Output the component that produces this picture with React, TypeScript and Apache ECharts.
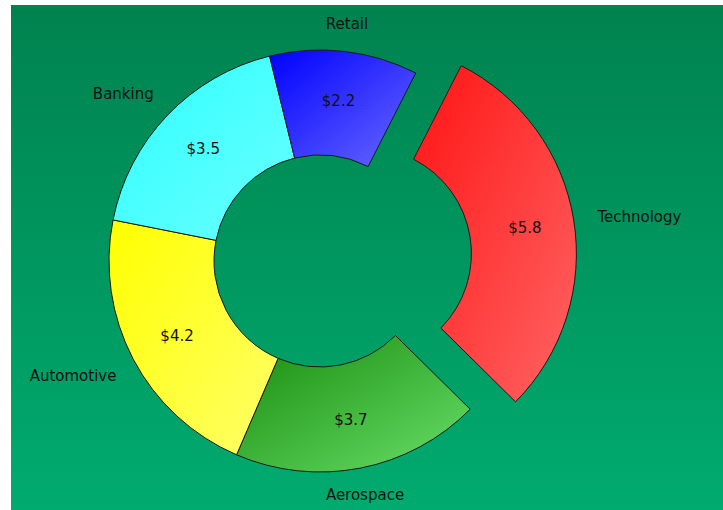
import React, { useEffect, useRef } from "react";
import * as echarts from "echarts";

const categories = ["Technology", "Aerospace", "Automotive", "Banking", "Retail"];
const values = [5.8, 3.7, 4.2, 3.5, 2.2];
const explodedIndex = 0;

const gradStart = ["#ff1414", "#178a0c", "#ffff00", "#2effff", "#0000ff"];
const gradEnd = ["#ff6464", "#6ae06a", "#ffff6a", "#6affff", "#6a6aff"];

const CX = 320;
const CY = 261;
const R0 = 106;
const R1 = 211;
const START = 63;
const OFFSET = 46;
const GAPX_RIGHT = 24;
const GAPX_LEFT = 19;
const GAPY = 20;

export default function App() {
  const ref = useRef<HTMLDivElement>(null);
  useEffect(() => {
    if (!ref.current) return;
    const chart = echarts.init(ref.current, undefined, { renderer: "svg" });
    const total = values.reduce((a, b) => a + b, 0);
    const mids: number[] = [];
    let acc = 0;
    values.forEach((v) => {
      const a0 = START - (acc / total) * 360;
      acc += v;
      const a1 = START - (acc / total) * 360;
      mids.push(((a0 + a1) / 2) * (Math.PI / 180));
    });

    const font = { fontFamily: "DejaVu Sans", fontSize: 15, color: "#111" };

    const data = categories.map((name, i) => ({
      name,
      value: values[i],
      selected: i === explodedIndex,
      itemStyle: {
        color: new echarts.graphic.LinearGradient(0, 0, 1, 1, [
          { offset: 0, color: gradStart[i] },
          { offset: 1, color: gradEnd[i] },
        ]),
      },
    }));

    chart.setOption({
      animation: false,
      graphic: [
        {
          type: "rect",
          z: -10,
          silent: true,
          shape: { x: 11, y: 5, width: 712, height: 505 },
          style: {
            fill: new echarts.graphic.LinearGradient(0, 0, 0, 1, [
              { offset: 0, color: "#00824f" },
              { offset: 1, color: "#00ab6f" },
            ]),
          },
        },
      ],
      series: [
        {
          type: "pie",
          center: [CX, CY],
          radius: [R0, R1],
          startAngle: START,
          clockwise: true,
          avoidLabelOverlap: false,
          selectedMode: "single",
          selectedOffset: OFFSET,
          itemStyle: { borderColor: "#1a1a1a", borderWidth: 1 },
          label: {
            show: true,
            position: "inside",
            formatter: (p: any) => "$" + p.value.toFixed(1),
            ...font,
          },
          labelLine: { show: false },
          emphasis: { disabled: true },
          data,
        },
        {
          type: "pie",
          center: [CX, CY],
          radius: [R0, R1],
          startAngle: START,
          clockwise: true,
          avoidLabelOverlap: false,
          silent: true,
          itemStyle: { color: "rgba(0,0,0,0)", borderWidth: 0 },
          label: { show: true, position: "outside", formatter: "{b}", ...font },
          labelLine: { show: false },
          emphasis: { disabled: true },
          labelLayout: (params: any) => {
            const i = params.dataIndex;
            const t = mids[i];
            const c = Math.cos(t);
            const s = Math.sin(t);
            const off = i === explodedIndex ? OFFSET : 0;
            const gx = c < 0 ? GAPX_LEFT : GAPX_RIGHT;
            const x = CX + c * (R1 + gx + off);
            const y = CY - s * (R1 + GAPY + off);
            return {
              x,
              y,
              align: c > 0.3 ? "left" : c < -0.3 ? "right" : "center",
              verticalAlign: s > 0.3 ? "bottom" : s < -0.3 ? "top" : "middle",
            };
          },
          data: categories.map((name, i) => ({ name, value: values[i] })),
        },
      ],
    });
    return () => chart.dispose();
  }, []);
  return (
    <div
      ref={ref}
      style={{ position: "absolute", left: 0, top: 0, width: 723, height: 510 }}
    />
  );
}
